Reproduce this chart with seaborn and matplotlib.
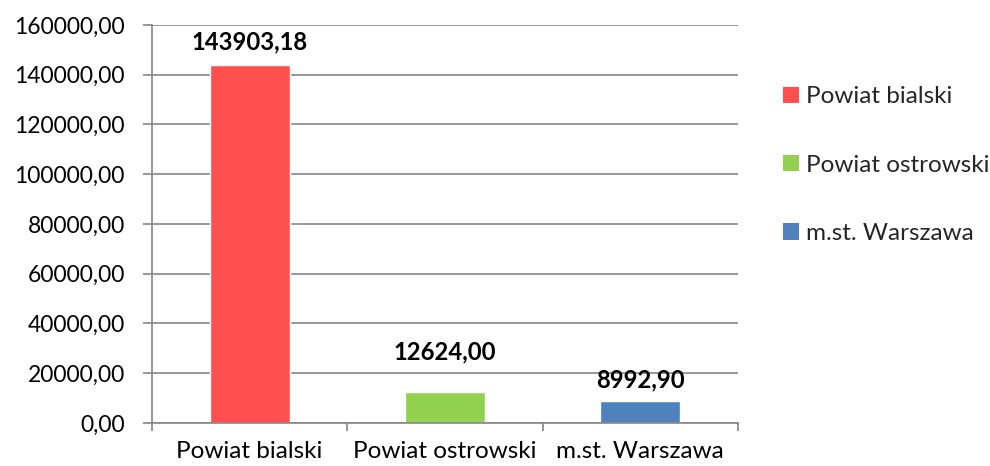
import matplotlib
matplotlib.use("Agg")
import matplotlib.pyplot as plt
import seaborn as sns
import pandas as pd
from matplotlib.ticker import FixedLocator, FuncFormatter
from matplotlib.patches import Patch

categories = ["Powiat bialski", "Powiat ostrowski", "m.st. Warszawa"]
values = [143903.18, 12624.00, 8992.90]
colors = ["#FF5050", "#92D050", "#4F81BD"]
label_offsets = [16.5, 28.5, 15]  # points above bar top (label centre)
y_ticks = [0, 20000, 40000, 60000, 80000, 100000, 120000, 140000, 160000]

sns.set_theme(style="white")
plt.rcParams['font.family'] = ['Lato', 'DejaVu Sans']

df = pd.DataFrame({"cat": categories, "val": values})

fig = plt.figure(figsize=(9.9, 4.66), dpi=100)
ax = fig.add_axes([0.1535, 0.0923, 0.592, 0.8541])

sns.barplot(data=df, x="cat", y="val", hue="cat", palette=colors,
            width=0.41, dodge=False, legend=False, ax=ax, saturation=1)

fmt = lambda v: f"{v:.2f}".replace(".", ",")
FS = 17.5
ax.set_ylim(0, 160000)
ax.set_xlim(-0.5, 2.5)
ax.yaxis.set_major_locator(FixedLocator(y_ticks))
ax.yaxis.set_major_formatter(FuncFormatter(lambda v, p: fmt(v)))
ax.grid(axis="y", color="#868686", linewidth=1.2)
ax.set_axisbelow(True)
ax.set_xlabel("")
ax.set_ylabel("")

for s in ["top", "right"]:
    ax.spines[s].set_visible(False)
for s in ["left", "bottom"]:
    ax.spines[s].set_color("#868686")
    ax.spines[s].set_linewidth(1.2)

ax.tick_params(axis="y", which="major", length=6.5, color="#868686", width=1.2,
               labelsize=16.5, labelcolor="black", pad=13, left=True)
ax.tick_params(axis="x", which="major", length=0, labelsize=FS, labelcolor="black", pad=13)
ax.xaxis.set_minor_locator(FixedLocator([-0.5, 0.5, 1.5, 2.5]))
ax.tick_params(axis="x", which="minor", length=6, color="#868686", width=1.2, bottom=True)

for i, v in enumerate(values):
    ax.annotate(fmt(v), xy=(i, v), xytext=(0, label_offsets[i]), textcoords="offset points",
                ha="center", va="center", fontsize=17.2, fontweight="bold", color="black")

handles = [Patch(facecolor=c, edgecolor="none") for c in colors]
fig.legend(handles, categories, loc="upper left", bbox_to_anchor=(0.791, 0.815),
           frameon=False, fontsize=FS, handlelength=0.65, handleheight=0.65,
           handletextpad=0.3, labelspacing=1.95, borderaxespad=0, borderpad=0)

fig.savefig("out.png", dpi=100)
